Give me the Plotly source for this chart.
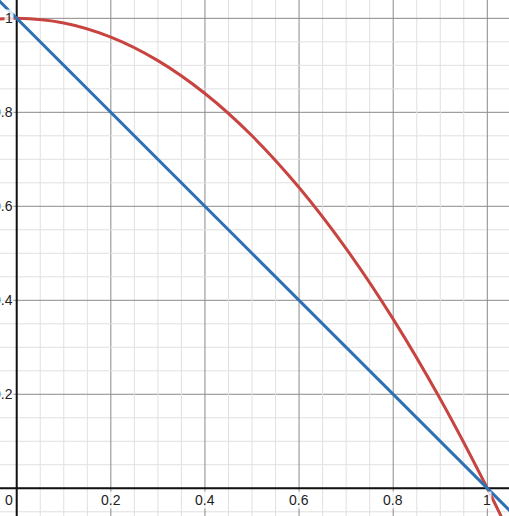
import plotly.graph_objects as go

# values
curve_x = [-0.05, 0.0, 0.1, 0.2, 0.3, 0.4, 0.5, 0.6, 0.7, 0.8, 0.9, 1.0, 1.06]
curve_y = [0.9975, 1.0, 0.99, 0.96, 0.91, 0.84, 0.75, 0.64, 0.51, 0.36, 0.19, 0.0, -0.1236]
line_x = [-0.05, 1.06]
line_y = [1.05, -0.06]

x_ticks = [0.2, 0.4, 0.6, 0.8, 1]
x_tick_text = ["0.2", "0.4", "0.6", "0.8", "1"]
y_ticks = [0.2, 0.4, 0.6, 0.8, 1]
y_tick_text = ["0.2", "0.4", "0.6", "0.8", "1"]

x_range = [-0.0355, 1.0461]
y_range = [-0.059, 1.039]

fig = go.Figure()

# minor / major grid
for i in range(-1, 22):
    v = i * 0.05
    major = i % 4 == 0
    col = "#8a8a8a" if major else "#e0e0e0"
    fig.add_shape(type="line", x0=v, x1=v, y0=y_range[0], y1=y_range[1],
                  line=dict(color=col, width=1), layer="below")
    fig.add_shape(type="line", x0=x_range[0], x1=x_range[1], y0=v, y1=v,
                  line=dict(color=col, width=1), layer="below")

# axes
fig.add_shape(type="line", x0=0, x1=0, y0=y_range[0], y1=y_range[1],
              line=dict(color="#111111", width=2), layer="below")
fig.add_shape(type="line", x0=x_range[0], x1=x_range[1], y0=0, y1=0,
              line=dict(color="#111111", width=2), layer="below")

fig.add_trace(go.Scatter(x=curve_x, y=curve_y, mode="lines",
                         line=dict(color="#c74440", width=3, shape="spline")))
fig.add_trace(go.Scatter(x=line_x, y=line_y, mode="lines",
                         line=dict(color="#2d70b3", width=3)))

font = dict(family="Arial, Liberation Sans", size=14, color="#222222")
for v, t in zip(x_ticks, x_tick_text):
    fig.add_annotation(x=v, y=-0.005, text=t, showarrow=False, xanchor="center",
                       yanchor="top", font=font, bgcolor="rgba(255,255,255,0.8)",
                       borderpad=0)
fig.add_annotation(x=-0.006, y=-0.005, text="0", showarrow=False, xanchor="right",
                   yanchor="top", font=font, bgcolor="rgba(255,255,255,0.8)", borderpad=0)
for v, t in zip(y_ticks, y_tick_text):
    fig.add_annotation(x=-0.006, y=v, text=t, showarrow=False, xanchor="right",
                       yanchor="middle", font=font, bgcolor="rgba(255,255,255,0.8)",
                       borderpad=0)

fig.update_xaxes(range=x_range, visible=False, showgrid=False, zeroline=False)
fig.update_yaxes(range=y_range, visible=False, showgrid=False, zeroline=False)
fig.update_layout(width=509, height=516, margin=dict(l=0, r=0, t=0, b=0),
                  paper_bgcolor="white", plot_bgcolor="white", showlegend=False)

fig.write_html("out.html", config={"displayModeBar": False},
               post_script="document.body.style.margin='0px';")
